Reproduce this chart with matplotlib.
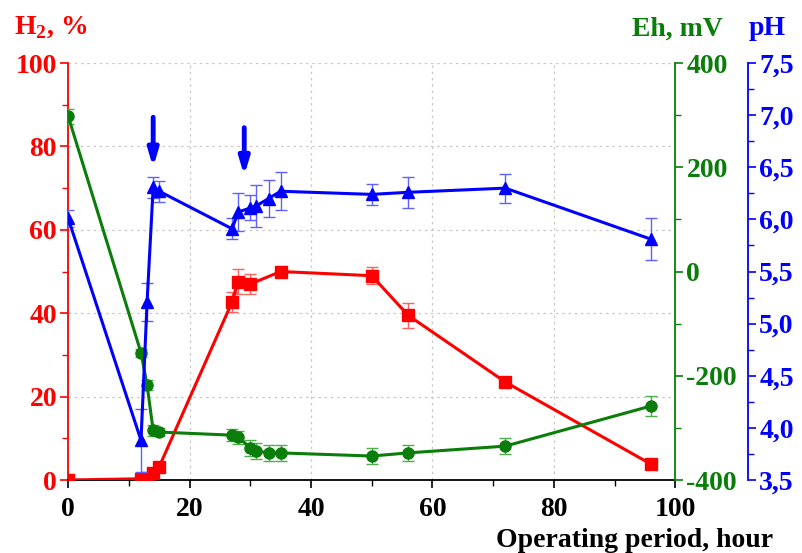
import matplotlib
matplotlib.use("Agg")
import matplotlib.pyplot as plt
from matplotlib.ticker import MultipleLocator, FuncFormatter

plt.rcParams['font.family'] = ['Liberation Serif', 'DejaVu Serif']
plt.rcParams['font.weight'] = 'bold'
plt.rcParams['axes.unicode_minus'] = False
plt.rcParams['mathtext.fontset'] = 'custom'
plt.rcParams['mathtext.rm'] = 'Liberation Serif:bold'
plt.rcParams['mathtext.bf'] = 'Liberation Serif:bold'

# --- DATA ---
h2_t = [0, 12, 13, 14, 15, 27, 28, 30, 35, 50, 56, 72, 96]
h2_val = [0, 0.3, 0.6, 1.6, 3.2, 42.7, 47.6, 47.0, 50.0, 49.0, 39.5, 23.5, 3.8]
h2_err = [0.3, 0.3, 0.5, 0.5, 0.5, 2.5, 3.0, 2.5, 1.0, 2.0, 3.0, 1.0, 0.6]

eh_t = [0, 12, 13, 14, 15, 27, 28, 30, 31, 33, 35, 50, 56, 72, 96]
eh_val = [298, -156, -218, -305, -308, -314, -318, -338, -344, -348, -348, -354, -348, -335, -258]
eh_err = [14, 8, 10, 10, 8, 12, 12, 15, 15, 15, 16, 15, 15, 15, 20]

ph_t = [0, 12, 13, 14, 15, 27, 28, 30, 31, 33, 35, 50, 56, 72, 96]
ph_val = [6.01, 3.88, 5.21, 6.31, 6.27, 5.91, 6.07, 6.11, 6.13, 6.20, 6.27, 6.24, 6.26, 6.30, 5.81]
ph_err = [0.08, 0.30, 0.18, 0.10, 0.10, 0.10, 0.18, 0.12, 0.20, 0.18, 0.18, 0.10, 0.15, 0.14, 0.20]

arrow_t = [14, 29]
arrow_top = [87.0, 84.5]
arrow_tip = [75.0, 73.0]

RED = '#ff0000'
GREEN = '#0a7d0a'
BLUE = '#0000ff'
FS = 20

fig = plt.figure(figsize=(8.02, 5.53), dpi=100)
ax = fig.add_axes([0.085, 0.132, 0.757, 0.754])
ax_eh = ax.twinx()
ax_ph = ax.twinx()
ax_ph.spines['right'].set_position(('axes', 1.12))

# H2 series (left axis)
ax.errorbar(h2_t, h2_val, yerr=h2_err, color=RED, marker='s', markersize=8,
            linewidth=2.2, ecolor='#ff6060', elinewidth=1.0, capsize=4, zorder=3)
ax.set_xlim(0, 100)
ax.set_ylim(0, 100)
ax.xaxis.set_major_locator(MultipleLocator(20))
ax.xaxis.set_minor_locator(MultipleLocator(10))
ax.yaxis.set_major_locator(MultipleLocator(20))
ax.yaxis.set_minor_locator(MultipleLocator(10))
ax.grid(True, which='major', linestyle=(0, (2, 3)), color='#c8c8c8', linewidth=0.9)
ax.set_axisbelow(True)
ax.spines['left'].set_color(RED)
ax.spines['left'].set_linewidth(1.3)
ax.spines['top'].set_visible(False)
ax.spines['right'].set_visible(False)
ax.spines['bottom'].set_linewidth(1.3)
ax.tick_params(axis='y', which='both', colors=RED, labelsize=FS, pad=2)
ax.tick_params(axis='x', which='both', labelsize=FS, pad=6)
ax.tick_params(which='major', length=6, width=1.2)
ax.tick_params(which='minor', length=4, width=1.0)

# Eh series (first right axis)
ax_eh.errorbar(eh_t, eh_val, yerr=eh_err, color=GREEN, marker='o', markersize=8,
               linewidth=2.2, ecolor='#4caf4c', elinewidth=1.0, capsize=4, zorder=3)
ax_eh.set_ylim(-400, 400)
ax_eh.yaxis.set_major_locator(MultipleLocator(200))
ax_eh.yaxis.set_minor_locator(MultipleLocator(100))
for s in ['left', 'top', 'bottom']:
    ax_eh.spines[s].set_visible(False)
ax_eh.spines['right'].set_color(GREEN)
ax_eh.spines['right'].set_linewidth(1.3)
ax_eh.tick_params(axis='y', which='both', colors=GREEN, labelsize=FS, pad=2)
ax_eh.tick_params(which='major', length=6, width=1.2)
ax_eh.tick_params(which='minor', length=4, width=1.0)

# pH series (second right axis)
ax_ph.errorbar(ph_t, ph_val, yerr=ph_err, color=BLUE, marker='^', markersize=8,
               linewidth=2.2, ecolor='#6060ff', elinewidth=1.0, capsize=4, zorder=3)
ax_ph.set_ylim(3.5, 7.5)
ax_ph.yaxis.set_major_locator(MultipleLocator(0.5))
ax_ph.yaxis.set_minor_locator(MultipleLocator(0.25))
ax_ph.yaxis.set_major_formatter(FuncFormatter(lambda v, p: f"{v:.1f}".replace('.', ',')))
for s in ['left', 'top', 'bottom']:
    ax_ph.spines[s].set_visible(False)
ax_ph.spines['right'].set_color(BLUE)
ax_ph.spines['right'].set_linewidth(1.3)
ax_ph.tick_params(axis='y', which='both', colors=BLUE, labelsize=FS, pad=2)
ax_ph.tick_params(which='major', length=6, width=1.2)
ax_ph.tick_params(which='minor', length=4, width=1.0)

# arrows marking feeding points
for t, top, tip in zip(arrow_t, arrow_top, arrow_tip):
    ax.annotate('', xy=(t, tip), xytext=(t, top),
                arrowprops=dict(arrowstyle='-|>,head_length=1.0,head_width=0.3',
                                color=BLUE, linewidth=3.5, shrinkA=0, shrinkB=0))

# axis titles
fig.text(0.964, 0.022, 'Operating period, hour', fontsize=FS, fontweight='bold',
         ha='right', va='center')
fig.text(0.018, 0.95, 'H$_2$, %', color=RED, fontsize=FS, fontweight='bold', va='center')
fig.text(0.788, 0.948, 'Eh, mV', color=GREEN, fontsize=FS, fontweight='bold', va='center')
fig.text(0.934, 0.948, 'pH', color=BLUE, fontsize=FS, fontweight='bold', va='center')

fig.savefig('out.png', dpi=100)
